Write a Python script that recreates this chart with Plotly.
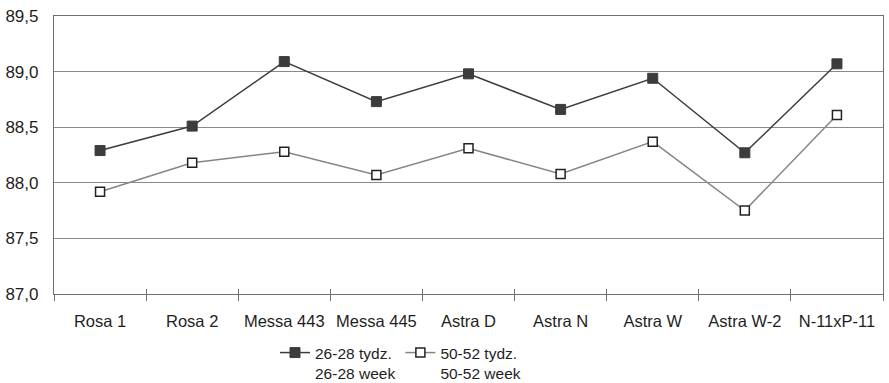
import plotly.graph_objects as go

categories = ["Rosa 1", "Rosa 2", "Messa 443", "Messa 445", "Astra D", "Astra N", "Astra W", "Astra W-2", "N-11xP-11"]
week_26_28 = [88.29, 88.51, 89.09, 88.73, 88.98, 88.66, 88.94, 88.27, 89.07]
week_50_52 = [87.92, 88.18, 88.28, 88.07, 88.31, 88.08, 88.37, 87.75, 88.61]
name_1 = "26-28 tydz.<br>26-28 week"
name_2 = "50-52 tydz.<br>50-52 week"
y_ticks = [87.0, 87.5, 88.0, 88.5, 89.0, 89.5]

FONT = "Liberation Sans, Arial, sans-serif"

fig = go.Figure()
fig.add_trace(go.Scatter(
    x=categories, y=week_26_28, name=name_1, mode="lines+markers",
    line=dict(color="#3c3c3c", width=1.5),
    marker=dict(symbol="square", size=10, color="#3c3c3c", line=dict(color="#3c3c3c", width=1)),
))
fig.add_trace(go.Scatter(
    x=categories, y=week_50_52, name=name_2, mode="lines+markers",
    line=dict(color="#858585", width=1.5),
    marker=dict(symbol="square", size=9, color="white", line=dict(color="#222222", width=1.5)),
))
# invisible trace on overlay axis to draw inward half of crossing ticks
fig.add_trace(go.Scatter(
    x=categories, y=week_26_28, xaxis="x2", mode="markers",
    marker=dict(opacity=0), showlegend=False, hoverinfo="skip",
))

fig.update_layout(
    width=889, height=383,
    margin=dict(l=54, r=6, t=16, b=89, autoexpand=False),
    paper_bgcolor="white", plot_bgcolor="white",
    separators=", ",
    font=dict(family=FONT, size=16, color="#1e1e1e"),
    showlegend=True,
    legend=dict(
        orientation="h", xref="container", yref="container",
        x=275 / 889, xanchor="left", y=1 - 336 / 383, yanchor="top",
        valign="top", font=dict(size=15.5, family=FONT, color="#1e1e1e"),
        bgcolor="rgba(0,0,0,0)", itemwidth=30, tracegroupgap=0,
    ),
    xaxis=dict(
        type="category", tickson="boundaries", ticks="outside", ticklen=6,
        tickcolor="#707070", tickwidth=1.2, tickangle=0, automargin=False,
        showline=True, linecolor="#707070", linewidth=1.2, mirror=True,
        showgrid=False, range=[-0.5, 8.5], ticklabelstandoff=12,
        tickfont=dict(size=16.5, family=FONT, color="#1e1e1e"),
    ),
    xaxis2=dict(
        type="category", overlaying="x", side="bottom", matches="x",
        tickson="boundaries", ticks="inside", ticklen=5,
        tickcolor="#707070", tickwidth=1.2, showticklabels=False,
        showline=False, showgrid=False, range=[-0.5, 8.5],
    ),
    yaxis=dict(
        range=[87.0, 89.5], tickvals=y_ticks, tickformat=".1f", automargin=False,
        showgrid=True, gridcolor="#8a8a8a", gridwidth=1.2,
        showline=True, linecolor="#707070", linewidth=1.2, mirror=True,
        ticks="", ticklabelstandoff=11, zeroline=False,
        tickfont=dict(size=17, family=FONT, color="#1e1e1e"),
    ),
)

fig.write_html("out.html")
